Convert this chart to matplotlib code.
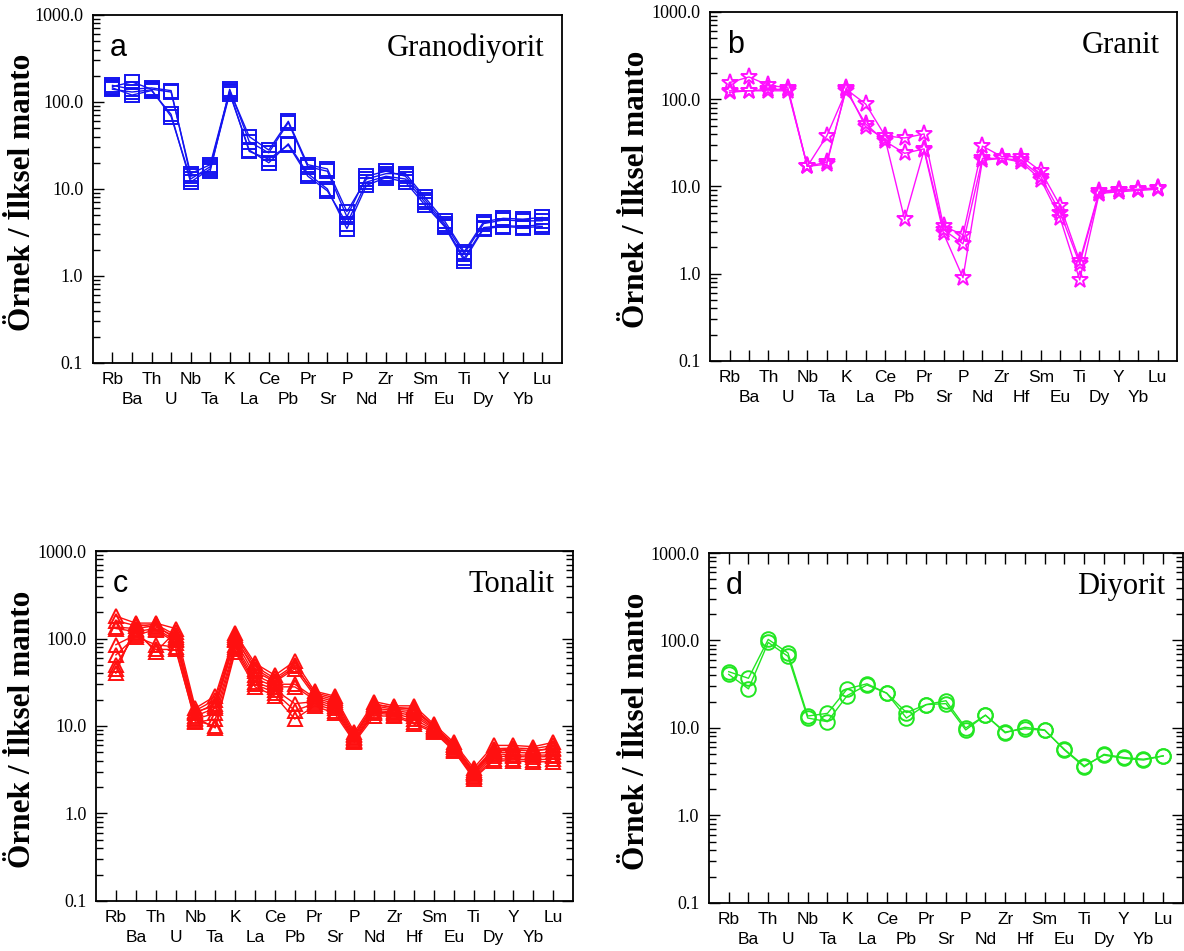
import numpy as np
import matplotlib
matplotlib.use("Agg")
import matplotlib.pyplot as plt
from matplotlib.ticker import FixedLocator, FuncFormatter, NullFormatter, LogLocator

elements = ["Rb", "Ba", "Th", "U", "Nb", "Ta", "K", "La", "Ce", "Pb", "Pr", "Sr",
            "P", "Nd", "Zr", "Hf", "Sm", "Eu", "Ti", "Dy", "Y", "Yb", "Lu"]

# primitive-mantle normalised values, one list per sample
granodiyorit = [
  [150, 170, 140, 130, 15, 19, 135, 40, 28, 60, 19, 17, 5.5, 13, 15, 15, 8.0, 4.3, 1.9, 4.2, 4.6, 4.5, 4.7],
  [145, 120, 135, 72, 12, 17, 125, 28, 20, 33, 15, 10, 3.5, 11, 13.5, 12, 6.5, 3.7, 1.5, 3.5, 3.7, 3.6, 3.7],
  [155, 140, 145, 135, 14, 16, 140, 35, 26, 58, 18, 16, 4.8, 14, 16, 14, 7.5, 4.0, 1.8, 4.0, 4.4, 4.3, 4.3],
  [140, 130, 138, 68, 13, 18, 130, 27, 22, 32, 14, 9.5, 4.0, 12, 14, 13, 7.0, 3.8, 1.6, 3.6, 3.8, 3.7, 3.9],
]
granit = [
  [155, 180, 145, 135, 17, 19, 130, 88, 38, 36, 40, 3.5, 2.8, 29, 22, 22, 15, 6.0, 1.4, 8.8, 9.2, 9.3, 9.7],
  [125, 125, 130, 130, 17, 38, 125, 52, 33, 24, 27, 3.2, 2.2, 21, 21, 20, 13, 5.0, 1.3, 8.5, 9.0, 9.2, 9.5],
  [120, 125, 125, 125, 17, 18, 135, 48, 35, 4.2, 26, 2.9, 0.9, 20, 21, 19, 12, 4.3, 0.85, 8.3, 8.7, 9.0, 9.3],
]
tonalit = [
  [180, 150, 150, 130, 16, 22, 115, 52, 38, 55, 25, 22, 8.5, 19, 17, 17, 10.5, 6.5, 3.3, 6.0, 6.0, 5.8, 6.5],
  [160, 140, 145, 110, 15, 20, 110, 48, 35, 50, 23, 20, 8.0, 18, 16, 16, 10.0, 6.2, 3.1, 5.5, 5.6, 5.5, 6.0],
  [135, 130, 140, 100, 14, 18, 105, 42, 32, 45, 22, 19, 7.5, 17, 15.5, 15, 9.8, 6.0, 3.0, 5.2, 5.3, 5.2, 5.5],
  [130, 120, 130, 95, 13, 16, 95, 38, 30, 30, 21, 18, 7.2, 16, 15, 14, 9.5, 5.8, 2.9, 5.0, 5.0, 4.9, 5.0],
  [85, 110, 125, 90, 12, 14, 85, 35, 28, 28, 20, 17, 7.0, 15, 14.5, 13, 9.3, 5.7, 2.8, 4.8, 4.7, 4.6, 4.7],
  [65, 105, 85, 80, 11, 12, 80, 32, 26, 18, 19, 16, 6.8, 14.5, 14, 12, 9.0, 5.5, 2.7, 4.5, 4.5, 4.4, 4.5],
  [50, 115, 75, 75, 11.5, 10, 75, 30, 24, 15, 18, 15, 6.7, 14, 13.5, 11, 8.8, 5.3, 2.6, 4.2, 4.2, 4.1, 4.2],
  [45, 125, 70, 120, 12.5, 9.5, 70, 28, 22, 12, 17, 14, 6.5, 13, 13, 10.5, 8.5, 5.2, 2.5, 4.0, 4.0, 3.9, 3.9],
  [40, 145, 135, 105, 14.5, 17, 100, 45, 33, 48, 24, 21, 7.8, 17.5, 16.5, 15.5, 10, 6.0, 3.0, 5.3, 5.4, 5.2, 5.6],
]
diyorit = [
  [44, 37, 103, 72, 13.7, 14.7, 28, 32, 25, 15, 18.5, 20.5, 10, 14, 8.8, 10.2, 9.5, 5.6, 3.6, 5.0, 4.6, 4.4, 4.8],
  [41, 28, 95, 66, 13, 11.8, 23.5, 31, 25, 13, 18.5, 19, 9.5, 14, 9.0, 9.8, 9.4, 5.7, 3.7, 4.9, 4.5, 4.3, 4.8],
]

panels = [
  # data, letter, name, colour, marker, axes rect, ylabel x, right ticks, top ticks
  (granodiyorit, "a", "Granodiyorit", "#1414f0", "s", [0.0785, 0.6183, 0.396, 0.366], 23, False, False),
  (granit, "b", "Granit", "#ff10ff", "*", [0.5997, 0.6204, 0.3944, 0.367], 637, False, False),
  (tonalit, "c", "Tonalit", "#ff1010", "^", [0.0811, 0.0526, 0.4029, 0.368], 23, True, False),
  (diyorit, "d", "Diyorit", "#22e622", "o", [0.5988, 0.0505, 0.4003, 0.368], 636, True, True),
]

W, H = 1184, 951
fig = plt.figure(figsize=(W / 100, H / 100), dpi=100)

x = np.arange(1, len(elements) + 1)
# odd elements go on the upper label row, even ones on the lower row
x_top, lab_top = x[0::2], elements[0::2]
x_bot, lab_bot = x[1::2], elements[1::2]

for data, letter, name, color, marker, rect, ylx, rticks, tticks in panels:
  ax = fig.add_axes(rect)
  ms = 12.5 if marker == "*" else 10.5
  for sample in data:
    ax.plot(x, sample, color=color, lw=1.0, marker=marker, ms=ms, mfc="none",
            mec=color, mew=1.4)
  ax.set_yscale("log")
  ax.set_ylim(0.1, 1000)
  ax.set_xlim(0, 24)

  ax.yaxis.set_major_locator(FixedLocator([0.1, 1, 10, 100, 1000]))
  ax.yaxis.set_major_formatter(FuncFormatter(lambda v, p: "%.1f" % v))
  ax.yaxis.set_minor_locator(LogLocator(base=10, subs=np.arange(2, 10)))
  ax.yaxis.set_minor_formatter(NullFormatter())
  for lab in ax.get_yticklabels():
    lab.set_fontfamily("Liberation Serif")
    lab.set_fontsize(13)

  ax.set_xticks(x_top)
  ax.set_xticklabels(lab_top, fontsize=12.5, fontfamily="Liberation Sans")
  ax.set_xticks(x_bot, minor=True)
  ax.set_xticklabels(lab_bot, minor=True, fontsize=12.5, fontfamily="Liberation Sans")

  ax.tick_params(axis="y", which="major", direction="in", length=8, width=1,
                 right=rticks, pad=7)
  ax.tick_params(axis="y", which="minor", direction="in", length=5, width=1,
                 right=rticks)
  ax.tick_params(axis="x", which="major", direction="in", length=8, width=1,
                 top=tticks, pad=6.5)
  ax.tick_params(axis="x", which="minor", direction="in", length=8, width=1,
                 top=tticks, pad=21)
  for sp in ax.spines.values():
    sp.set_linewidth(1.3)

  ax.text(0.036, 0.882, letter, transform=ax.transAxes, ha="left",
          va="baseline", fontsize=22, fontfamily="Liberation Sans")
  ax.text(0.962, 0.882, name, transform=ax.transAxes, ha="right", va="baseline",
          fontsize=22, fontfamily="Liberation Serif")

  fig.text(ylx / W, rect[1] + rect[3] / 2 - 0.003, "Örnek / İlksel manto", rotation=90,
           ha="center", va="center", fontsize=22.5, fontweight="bold",
           fontfamily="Liberation Serif")

fig.savefig("out.png", dpi=100)
